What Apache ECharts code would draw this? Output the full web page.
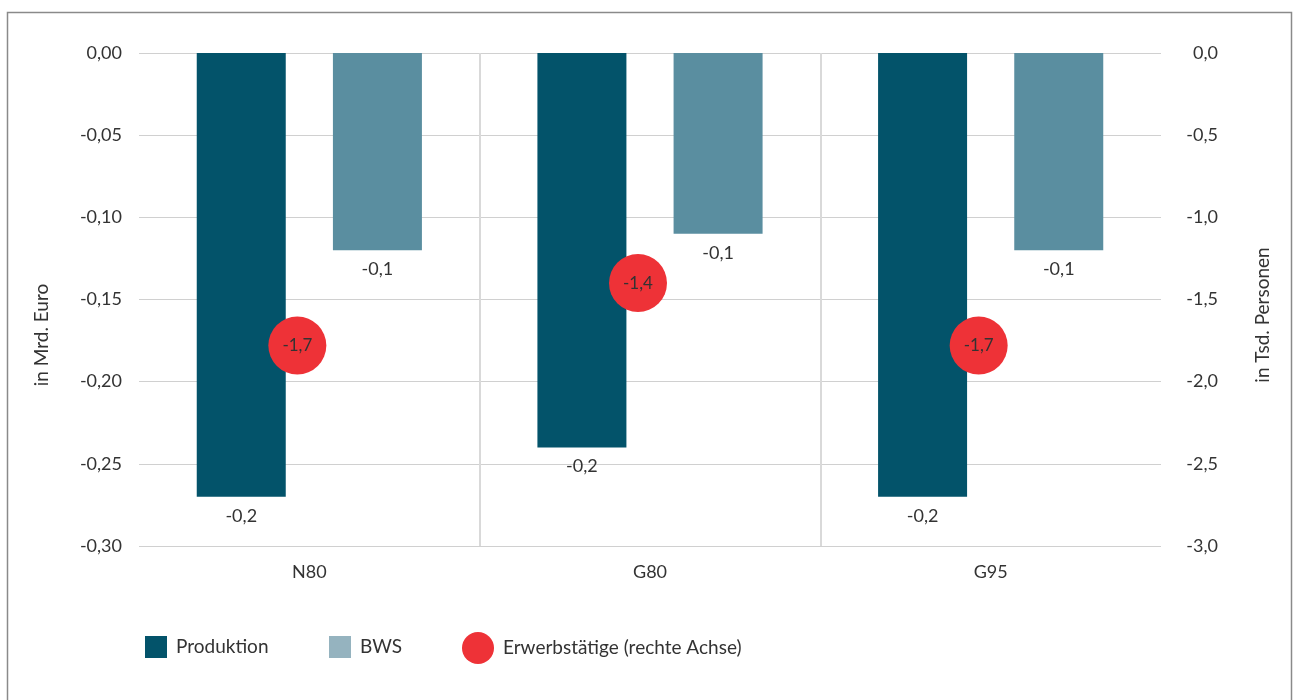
<!DOCTYPE html>
<html>
<head>
<meta charset="utf-8">
<script src="https://cdn.jsdelivr.net/npm/echarts@6/dist/echarts.min.js"></script>
<style>
  html, body { margin: 0; padding: 0; background: #fff; }
  #chart { width: 1293px; height: 700px; }
</style>
</head>
<body>
<div id="chart"></div>
<script>
// Szenarien
const categories = ['N80', 'G80', 'G95'];
// Veränderung in Mrd. Euro (linke Achse)
const produktion = [-0.27, -0.24, -0.27];
const bws = [-0.12, -0.11, -0.12];
// Veränderung in Tsd. Personen (rechte Achse)
const erwerbstaetige = [-1.78, -1.40, -1.78];

const FONT = 'Lato, "Open Sans", sans-serif';
const TEXT = '#333333';
const C_PROD = '#03536a';
const C_BWS = '#5a8ea0';
const C_BWS_LEGEND = '#95b3bf';
const C_RED = '#ee3237';

// Werte werden auf eine Nachkommastelle gekürzt ausgewiesen
const fmt1 = v => (Math.trunc(Math.round(v * 1000) / 100) / 10).toFixed(1).replace('.', ',');

const chart = echarts.init(document.getElementById('chart'), null, { renderer: 'canvas' });

const legendBase = {
  orient: 'horizontal',
  top: 636,
  padding: 0,
  itemWidth: 22,
  itemHeight: 22,
  icon: 'rect',
  textStyle: { fontFamily: FONT, fontSize: 19, color: TEXT, padding: [0, 0, 0, 4] },
  selectedMode: false
};

chart.setOption({
  backgroundColor: '#ffffff',
  animation: false,
  textStyle: { fontFamily: FONT },
  grid: [
    { left: 139, right: 132, top: 53, bottom: 154 },
    { left: 127, right: 144, top: 53, bottom: 154 }
  ],
  xAxis: [
    {
      type: 'category',
      gridIndex: 0,
      data: categories,
      boundaryGap: true,
      axisLine: { show: false },
      axisTick: { show: false },
      axisLabel: { fontFamily: FONT, fontSize: 18, color: TEXT, margin: 17 },
      splitLine: {
        show: true,
        showMinLine: false,
        showMaxLine: false,
        lineStyle: { color: '#d9d9d9', width: 2 }
      }
    },
    {
      type: 'category',
      gridIndex: 1,
      data: categories,
      boundaryGap: true,
      show: false
    }
  ],
  yAxis: [
    {
      type: 'value',
      gridIndex: 0,
      position: 'left',
      min: -0.3,
      max: 0,
      interval: 0.05,
      axisLine: { show: false },
      axisTick: { show: false },
      axisLabel: {
        fontFamily: FONT, fontSize: 18, color: TEXT, margin: 17,
        formatter: v => (Math.abs(v) < 1e-9 ? 0 : v).toFixed(2).replace('.', ',')
      },
      splitLine: { show: true, lineStyle: { color: '#d0d0d0', width: 1 } }
    },
    {
      type: 'value',
      gridIndex: 0,
      position: 'right',
      min: -3,
      max: 0,
      interval: 0.5,
      axisLine: { show: false },
      axisTick: { show: false },
      axisLabel: {
        fontFamily: FONT, fontSize: 18, color: TEXT, margin: 57, align: 'right',
        formatter: v => (Math.abs(v) < 1e-9 ? 0 : v).toFixed(1).replace('.', ',')
      },
      splitLine: { show: false }
    },
    {
      type: 'value',
      gridIndex: 1,
      min: -3,
      max: 0,
      show: false
    }
  ],
  legend: [
    Object.assign({}, legendBase, { left: 145, data: ['Produktion'] }),
    Object.assign({}, legendBase, {
      left: 329,
      data: [{ name: 'BWS', itemStyle: { color: C_BWS_LEGEND } }]
    }),
    Object.assign({}, legendBase, {
      left: 462,
      top: 632,
      itemWidth: 32,
      itemHeight: 32,
      icon: 'circle',
      data: ['Erwerbstätige (rechte Achse)']
    })
  ],
  graphic: [
    {
      type: 'rect',
      silent: true,
      shape: { x: 7.5, y: 12.5, width: 1284, height: 720 },
      style: { fill: 'none', stroke: '#8a8a8a', lineWidth: 1.5 }
    },
    {
      type: 'text',
      x: 42, y: 335,
      rotation: Math.PI / 2,
      style: {
        text: 'in Mrd. Euro', fontFamily: FONT, fontSize: 19, fill: TEXT,
        align: 'center', verticalAlign: 'middle'
      }
    },
    {
      type: 'text',
      x: 1263, y: 315,
      rotation: Math.PI / 2,
      style: {
        text: 'in Tsd. Personen', fontFamily: FONT, fontSize: 19, fill: TEXT,
        align: 'center', verticalAlign: 'middle'
      }
    }
  ],
  series: [
    {
      name: 'Produktion',
      type: 'bar',
      xAxisIndex: 0,
      yAxisIndex: 0,
      data: produktion,
      barWidth: 89,
      barGap: '53%',
      itemStyle: { color: C_PROD },
      label: {
        show: true, position: 'bottom', distance: 10,
        fontFamily: FONT, fontSize: 18, color: TEXT,
        formatter: p => fmt1(p.value)
      }
    },
    {
      name: 'BWS',
      type: 'bar',
      xAxisIndex: 0,
      yAxisIndex: 0,
      data: bws,
      barWidth: 89,
      barGap: '53%',
      itemStyle: { color: C_BWS },
      label: {
        show: true, position: 'bottom', distance: 10,
        fontFamily: FONT, fontSize: 18, color: TEXT,
        formatter: p => fmt1(p.value)
      }
    },
    {
      name: 'Erwerbstätige (rechte Achse)',
      type: 'line',
      xAxisIndex: 1,
      yAxisIndex: 2,
      data: erwerbstaetige,
      symbol: 'circle',
      symbolSize: 58,
      lineStyle: { opacity: 0, width: 0 },
      itemStyle: { color: C_RED, opacity: 1 },
      z: 5,
      label: {
        show: true, position: 'inside',
        fontFamily: FONT, fontSize: 17, color: TEXT,
        formatter: p => fmt1(p.value)
      }
    }
  ]
});
</script>
</body>
</html>
